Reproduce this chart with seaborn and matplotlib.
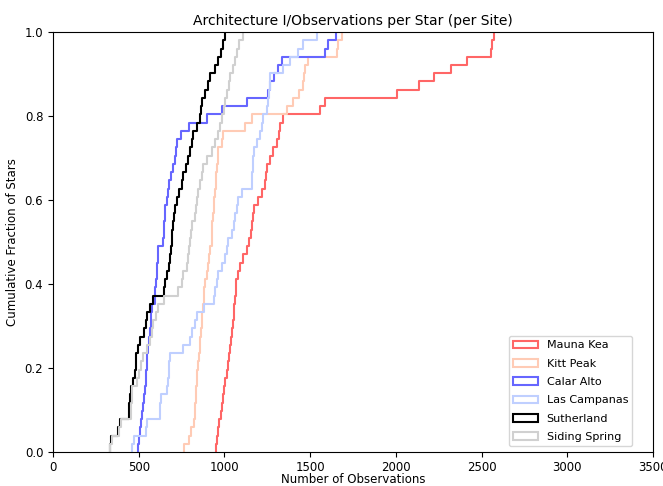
import numpy as np
import pandas as pd
import matplotlib
matplotlib.use("Agg")
import matplotlib.pyplot as plt
from matplotlib.patches import Patch
import seaborn as sns

# Number of observations of each star, per observing site
sites = ["Mauna Kea", "Kitt Peak", "Calar Alto", "Las Campanas", "Sutherland", "Siding Spring"]

mauna_kea = [950, 956, 962, 966, 978, 986, 993, 998, 1003, 1012,
             1020, 1027, 1032, 1040, 1046, 1050, 1054, 1058, 1062, 1065,
             1068, 1080, 1090, 1110, 1130, 1145, 1152, 1159, 1166, 1173,
             1195, 1217, 1237, 1242, 1247, 1266, 1285, 1309, 1318, 1324,
             1340, 1557, 1587, 2005, 2137, 2224, 2320, 2413, 2555, 2559,
             2574]
kitt_peak = [766, 795, 805, 822, 826, 829, 832, 835, 838, 841,
             845, 850, 855, 860, 864, 867, 870, 874, 878, 882,
             887, 896, 906, 912, 918, 925, 928, 930, 933, 936,
             940, 944, 948, 952, 956, 960, 965, 984, 994, 1120,
             1159, 1363, 1402, 1437, 1457, 1463, 1470, 1489, 1655, 1664,
             1684]
calar_alto = [498, 503, 508, 513, 517, 527, 532, 537, 540, 544,
              547, 551, 556, 561, 566, 570, 573, 576, 592, 597,
              601, 605, 608, 611, 614, 643, 646, 649, 651, 653,
              662, 670, 678, 690, 702, 710, 716, 721, 745, 795,
              896, 984, 1130, 1256, 1266, 1289, 1311, 1334, 1587, 1606,
              1651]
las_campanas = [461, 474, 540, 547, 622, 626, 630, 663, 670, 674,
                678, 682, 760, 800, 809, 830, 840, 880, 940, 945,
                958, 964, 984, 1003, 1015, 1023, 1042, 1055, 1062, 1072,
                1081, 1100, 1159, 1162, 1165, 1168, 1170, 1188, 1207, 1220,
                1227, 1250, 1256, 1260, 1263, 1266, 1343, 1383, 1431, 1460,
                1538]
sutherland = [330, 340, 380, 389, 442, 446, 450, 453, 467, 478,
              482, 486, 498, 508, 530, 540, 547, 566, 585, 645,
              651, 663, 675, 682, 688, 692, 696, 702, 707, 712,
              721, 737, 751, 760, 776, 789, 799, 810, 818, 838,
              857, 862, 867, 887, 906, 916, 945, 964, 978, 994,
              1003]
siding_spring = [335, 345, 385, 395, 455, 457, 459, 461, 488, 500,
                 511, 527, 550, 566, 578, 585, 600, 614, 645, 731,
                 750, 760, 780, 788, 793, 799, 804, 809, 828, 833,
                 838, 848, 857, 868, 877, 900, 926, 945, 964, 975,
                 984, 995, 1003, 1013, 1025, 1033, 1052, 1062, 1072, 1087,
                 1110]

series = [mauna_kea, kitt_peak, calar_alto, las_campanas, sutherland, siding_spring]
colors = ["#ff6666", "#ffcbb5", "#6666ff", "#bfcfff", "#000000", "#d0d0d0"]

df = pd.concat(
    [pd.DataFrame({"site": name, "observations": vals}) for name, vals in zip(sites, series)],
    ignore_index=True,
)

fig = plt.figure(figsize=(6.63, 4.86), dpi=100)
ax = fig.add_axes([0.080, 0.070, 0.905, 0.864])

for name, color in zip(sites, colors):
    sub = df[df["site"] == name]
    sns.ecdfplot(data=sub, x="observations", color=color, linewidth=1.5, ax=ax)
    line = ax.lines[-1]
    xd = np.asarray(line.get_xdata(), dtype=float).copy()
    yd = np.asarray(line.get_ydata(), dtype=float)
    # start each staircase at its first value instead of -inf
    xd[0] = xd[1]
    line.set_data(xd, yd)

ax.set_xlim(0, 3500)
ax.set_ylim(0, 1.0)
ax.set_xticks(np.arange(0, 3501, 500))
ax.set_yticks(np.arange(0, 1.01, 0.2))
ax.tick_params(labelsize=8.5)
ax.tick_params(axis="x", pad=3)
ax.set_xlabel("Number of Observations", fontsize=8.5, labelpad=-0.5)
ax.set_ylabel("Cumulative Fraction of Stars", fontsize=8.5)
ax.set_title("Architecture I/Observations per Star (per Site)", fontsize=10, pad=5)

handles = [Patch(facecolor="none", edgecolor=c, linewidth=1.5, label=n) for n, c in zip(sites, colors)]
ax.legend(handles=handles, loc="lower right", bbox_to_anchor=(0.975, 0.0),
          fontsize=8, handlelength=2.2, labelspacing=0.75)

fig.savefig("out.png", dpi=100)
